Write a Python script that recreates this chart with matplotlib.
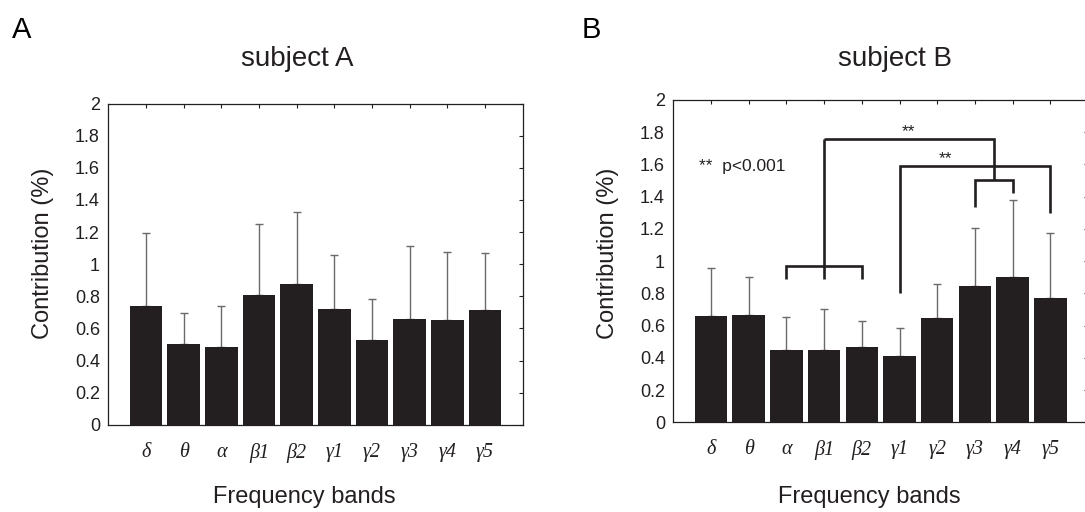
import numpy as np
import matplotlib
matplotlib.use("Agg")
import matplotlib.pyplot as plt

# frequency bands and contributions (%), mean + upper SD
bands = ["δ", "θ", "α", "β1", "β2", "γ1", "γ2", "γ3", "γ4", "γ5"]

mean_a = [0.740, 0.502, 0.485, 0.808, 0.875, 0.719, 0.526, 0.659, 0.653, 0.715]
err_a = [0.456, 0.192, 0.255, 0.440, 0.451, 0.336, 0.259, 0.454, 0.423, 0.357]

mean_b = [0.658, 0.666, 0.447, 0.447, 0.467, 0.410, 0.649, 0.846, 0.902, 0.769]
err_b = [0.302, 0.238, 0.204, 0.258, 0.164, 0.177, 0.207, 0.360, 0.478, 0.406]

yticks = [0, 0.2, 0.4, 0.6, 0.8, 1.0, 1.2, 1.4, 1.6, 1.8, 2.0]
ytick_labels = ["0", "0.2", "0.4", "0.6", "0.8", "1", "1.2", "1.4", "1.6", "1.8", "2"]

# significance brackets for subject B (band positions 1..10, y levels in %)
group_ab = [3, 4, 5]          # alpha, beta1, beta2
group_ab_y = (0.887, 0.970)
group_g34 = [8, 9]            # gamma3, gamma4
group_g34_y = (1.334, 1.425, 1.506)
top_link_y = 1.760
g1_g5 = [6, 10]               # gamma1 vs gamma5
g1_g5_y = (0.800, 1.297, 1.592)

DARK = "#231f20"
SANS = "Liberation Sans"
plt.rcParams["font.family"] = SANS

fig = plt.figure(figsize=(10.85, 5.12), dpi=100)
W, H = 1085, 512


def px(x, y):
    return x / W, 1 - y / H


def draw_panel(ax, means, errs):
    x = np.arange(1, len(bands) + 1)
    ax.errorbar(x, means, yerr=[np.zeros(len(errs)), errs], fmt="none",
                ecolor="#6a6a6a", elinewidth=1.0, capsize=3, capthick=1.0,
                zorder=1)
    ax.bar(x, means, width=0.86, color=DARK, zorder=2)
    ax.set_xlim(0, 11)
    ax.set_ylim(0, 2)
    ax.set_yticks(yticks)
    ax.set_yticklabels(ytick_labels, fontsize=13, color=DARK)
    ax.set_xticks(x)
    ax.set_xticklabels(bands, fontfamily="Liberation Serif", fontstyle="italic",
                       fontsize=14.5, color=DARK)
    ax.tick_params(axis="y", left=False, right=True, direction="in",
                   length=3, width=0.8, color=DARK, pad=6)
    ax.tick_params(axis="x", bottom=False, top=True, direction="in",
                   length=3, width=0.8, color=DARK, pad=13)
    for s in ax.spines.values():
        s.set_color(DARK)
        s.set_linewidth(0.9)


ax_a = fig.add_axes([108.3 / W, 1 - 424.7 / H, 414.4 / W, 321.0 / H])
ax_b = fig.add_axes([673.3 / W, 1 - 422.3 / H, 414.7 / W, 322.3 / H])
draw_panel(ax_a, mean_a, err_a)
draw_panel(ax_b, mean_b, err_b)

# brackets
lk = dict(color=DARK, lw=1.9, solid_capstyle="butt", solid_joinstyle="miter", zorder=3)
ax_b.plot([group_ab[0], group_ab[0], group_ab[-1], group_ab[-1]],
          [group_ab_y[0], group_ab_y[1], group_ab_y[1], group_ab_y[0]], **lk)
ax_b.plot([group_ab[1], group_ab[1]], [group_ab_y[0], top_link_y], **lk)
mid34 = (group_g34[0] + group_g34[1]) / 2
ax_b.plot([group_ab[1], mid34, mid34], [top_link_y, top_link_y, group_g34_y[2]], **lk)
ax_b.plot([group_g34[0], group_g34[0], group_g34[1], group_g34[1]],
          [group_g34_y[0], group_g34_y[2], group_g34_y[2], group_g34_y[1]], **lk)
ax_b.plot([g1_g5[0], g1_g5[0], g1_g5[1], g1_g5[1]],
          [g1_g5_y[0], g1_g5_y[2], g1_g5_y[2], g1_g5_y[1]], **lk)

ax_b.text((group_ab[1] + mid34) / 2, top_link_y + 0.015, "**", ha="center",
          va="baseline", fontsize=12.5, color=DARK)
ax_b.text(7.23, g1_g5_y[2] + 0.015, "**", ha="center", va="baseline",
          fontsize=12.5, color=DARK)
ax_b.text(0.69, 1.586, "**  p<0.001", ha="left", va="center", fontsize=12.5,
          color=DARK)

# titles, axis labels, panel letters
fig.text(*px(297.5, 66), "subject A", ha="center", va="baseline", fontsize=20, color=DARK)
fig.text(*px(895.5, 66), "subject B", ha="center", va="baseline", fontsize=20, color=DARK)
fig.text(*px(304, 503), "Frequency bands", ha="center", va="baseline", fontsize=17, color=DARK)
fig.text(*px(869, 503), "Frequency bands", ha="center", va="baseline", fontsize=17, color=DARK)
fig.text(*px(43, 253), "Contribution (%)", ha="center", va="center", rotation=90,
         fontsize=17, color=DARK)
fig.text(*px(608, 253), "Contribution (%)", ha="center", va="center", rotation=90,
         fontsize=17, color=DARK)
fig.text(*px(12, 38), "A", ha="left", va="baseline", fontsize=21, color="black")
fig.text(*px(582, 38), "B", ha="left", va="baseline", fontsize=21, color="black")

fig.savefig("out.png", dpi=100)
